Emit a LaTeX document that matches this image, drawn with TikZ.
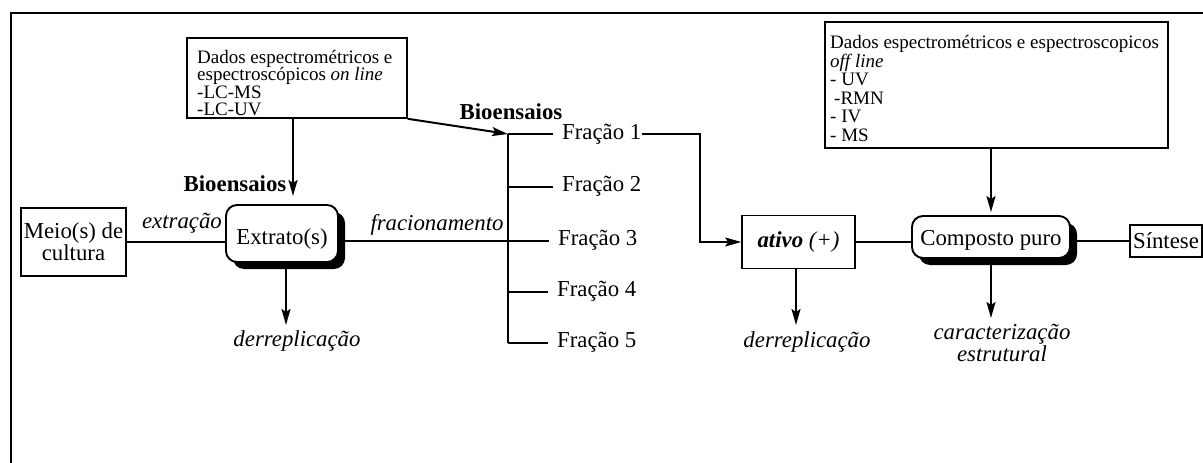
\documentclass[tikz,border=0pt]{standalone}
\usepackage{fontspec}
\setmainfont{Liberation Serif}
\usetikzlibrary{arrows.meta,shadows}
\begin{document}
\begin{tikzpicture}[x=1pt,y=-1pt,
  conn/.style={line width=2pt},
  arr/.style={conn,-{Stealth[length=16pt,width=9pt,inset=3pt]}},
  lbl/.style={font=\fontsize{22.8}{22}\selectfont, inner sep=0pt},
  ilbl/.style={font=\fontsize{22.8}{22}\selectfont\itshape, inner sep=0pt},
  blbl/.style={font=\fontsize{22.8}{22}\selectfont\bfseries, inner sep=0pt},
  boxtxt/.style={align=left, inner sep=0pt},
  plainbox/.style={draw, line width=1.6pt, fill=white},
  rbox/.style={draw, line width=1.9pt, fill=white, rounded corners=11pt,
    drop shadow={shadow xshift=7pt, shadow yshift=-7pt, fill=black, opacity=1}}]
\useasboundingbox (0,0) rectangle (1203,463);
% frame
\draw[line width=2.4pt] (11,463) -- (11,13) -- (1203,13);

% top boxes
\node[plainbox, minimum width=220pt, minimum height=80pt] (onl) at (297,78) {};
\node[boxtxt, font=\fontsize{19}{17.5}\selectfont, anchor=north west] (onltxt) at (197,50)
  {Dados espectrométricos e\\espectroscópicos \textit{on line}\\-LC-MS\\-LC-UV};
\node[plainbox, minimum width=343pt, minimum height=126pt] (offl) at (996.5,85) {};
\node[boxtxt, font=\fontsize{19}{18.6}\selectfont, anchor=north west] (offltxt) at (830,35)
  {Dados espectrométricos e espectroscopicos\\\textit{off line}\\- UV\\\hspace*{4pt}-RMN\\- IV\\- MS};

% main row
\node[plainbox, lbl, minimum width=105pt, minimum height=68pt, align=center] (meio) at (73.5,242) {Meio(s) de\\cultura};
\node[rbox, lbl, minimum width=112pt, minimum height=57pt, text height=26pt, text depth=5pt] (extr) at (282,233.5) {Extrato(s)};
\node[plainbox, lbl, minimum width=113pt, minimum height=53pt] (ativo) at (798.5,242) {\textbf{\textit{ativo}} \textit{(+)}};
\node[rbox, lbl, minimum width=158pt, minimum height=42pt, text height=22pt, text depth=6pt] (compo) at (991,237) {Composto puro};
\node[plainbox, lbl, minimum width=72pt, minimum height=32pt] (sint) at (1166,241) {Síntese};

% labels
\node[blbl] (bio1) at (235,184) {Bioensaios};
\node[blbl] (bio2) at (511,112) {Bioensaios};
\node[ilbl] (extlbl) at (182,223) {extração};
\node[ilbl] (fraclbl) at (437,225) {fracionamento};
\node[ilbl] (der1) at (297,341) {derreplicação};
\node[ilbl] (der2) at (807,342) {derreplicação};
\node[ilbl, align=center] (carac) at (1002,343) {caracterização\\estrutural};

% fractions
\node[lbl, anchor=west] (f1) at (562,134) {Fração 1};
\node[lbl, anchor=west] (f2) at (562,186.5) {Fração 2};
\node[lbl, anchor=west] (f3) at (558,240.5) {Fração 3};
\node[lbl, anchor=west] (f4) at (557,291.5) {Fração 4};
\node[lbl, anchor=west] (f5) at (557,342.5) {Fração 5};

\coordinate (btop) at (508,134);
\coordinate (bbot) at (508,342.5);
\coordinate (tip1) at (293,196);
\coordinate (tip2) at (286,325);
\coordinate (tip3) at (796,325);
\coordinate (tip4) at (991,318);
\coordinate (bend) at (700,134);

% connectors
\draw[conn] (btop) -- (bbot);
\draw[conn, shorten >=9.5pt] (btop) -- (f1.west);
\draw[conn, shorten >=9.5pt] (btop |- f2.west) -- (f2.west);
\draw[conn, shorten >=9.5pt] (extr.east |- f3.west) -- (f3.west);
\draw[conn, shorten >=9.5pt] (btop |- f4.west) -- (f4.west);
\draw[conn, shorten >=9.5pt] (bbot) -- (f5.west);
\draw[conn] (meio.east) -- (meio.east -| extr.west);
\draw[arr] (onl.south east) -- (btop);
\draw[arr] (onl.south -| tip1) -- (tip1);
\draw[arr] (extr.south -| tip2) -- (tip2);
\draw[arr] (f1.east) -- (bend) |- (ativo.west);
\draw[arr] (ativo.south -| tip3) -- (tip3);
\draw[conn] (ativo.east) -- (ativo.east -| compo.west);
\draw[arr, shorten >=3pt] (offl.south -| compo.north) -- (compo.north);
\draw[arr] (compo.south) -- (tip4);
\draw[conn] (compo.east |- sint.west) -- (sint.west);
\end{tikzpicture}
\end{document}
